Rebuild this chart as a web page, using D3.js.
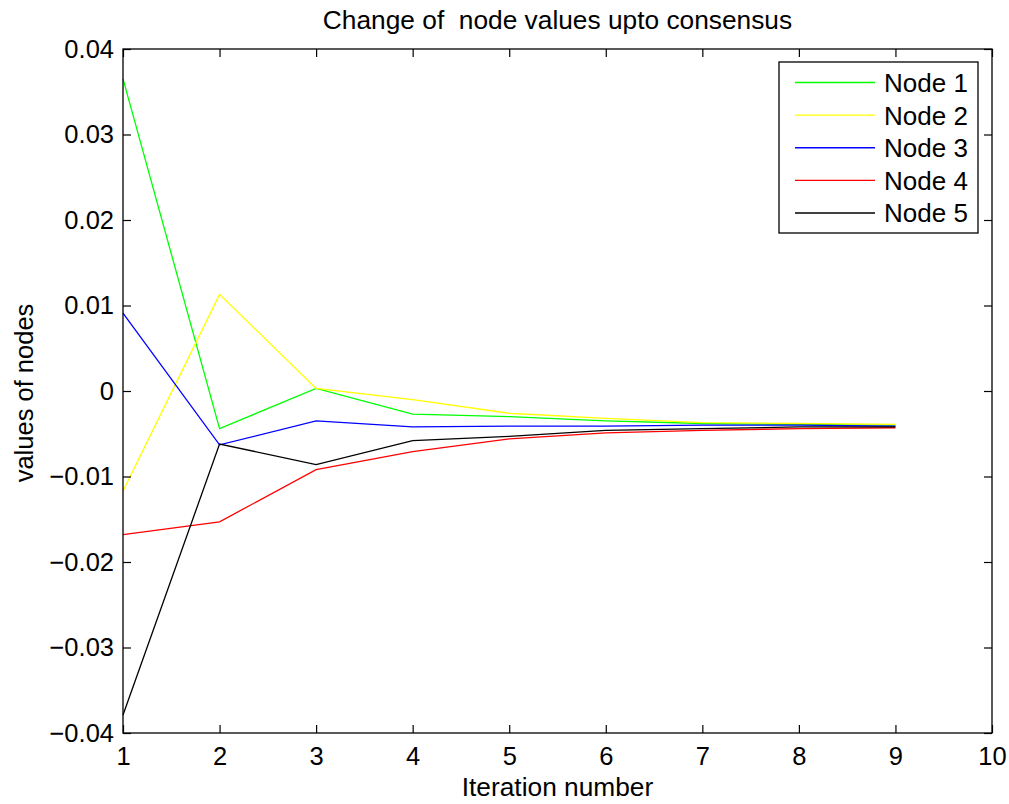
<!DOCTYPE html>
<html>
<head>
<meta charset="utf-8">
<script src="https://cdn.jsdelivr.net/npm/d3@7"></script>
<style>
  html, body { margin: 0; padding: 0; background: #fff; }
  svg { display: block; font-family: "Liberation Sans", Arial, sans-serif; }
</style>
</head>
<body>
<svg id="chart" width="1009" height="804"></svg>
<script>
// Iterations and node values recorded at each step
const iterations = [1, 2, 3, 4, 5, 6, 7, 8, 9];
const node1 = [0.0365, -0.0044, 0.0003, -0.0027, -0.0030, -0.0035, -0.0038, -0.0039, -0.0040];
const node2 = [-0.0117, 0.0113, 0.0003, -0.0010, -0.0026, -0.0032, -0.0037, -0.0038, -0.0039];
const node3 = [0.0091, -0.0063, -0.0035, -0.0042, -0.0041, -0.0041, -0.0040, -0.0040, -0.0041];
const node4 = [-0.0168, -0.0153, -0.0092, -0.0071, -0.0056, -0.0049, -0.0046, -0.0044, -0.0043];
const node5 = [-0.0379, -0.0062, -0.0086, -0.0058, -0.0053, -0.0046, -0.0044, -0.0042, -0.0042];
const seriesNames = ["Node 1", "Node 2", "Node 3", "Node 4", "Node 5"];
const seriesColors = ["#00ff00", "#ffff00", "#0000ff", "#ff0000", "#000000"];
const xTicks = [1, 2, 3, 4, 5, 6, 7, 8, 9, 10];
const yTicks = [-0.04, -0.03, -0.02, -0.01, 0, 0.01, 0.02, 0.03, 0.04];

const series = [node1, node2, node3, node4, node5].map((vals, i) => ({
  name: seriesNames[i],
  color: seriesColors[i],
  points: iterations.map((it, j) => [it, vals[j]])
}));

const svg = d3.select("#chart");
const plot = { left: 123, right: 992, top: 49, bottom: 733 };

const x = d3.scaleLinear().domain([1, 10]).range([plot.left, plot.right]);
const y = d3.scaleLinear().domain([-0.04, 0.04]).range([plot.bottom, plot.top]);

const fmtY = d => d === 0 ? "0" : d3.format(".2f")(d).replace("-", "\u2013");
const tickLen = 8;
const tickFont = 25.5;
const labelFont = 26.3;

// Lines
const line = d3.line().x(d => x(d[0])).y(d => y(d[1]));
svg.append("g").selectAll("path").data(series).join("path")
  .attr("d", d => line(d.points))
  .attr("fill", "none")
  .attr("stroke", d => d.color)
  .attr("stroke-width", 1.3);

// Axes: bottom/left carry labels, top/right mirror the ticks; ticks point inward
const axisStyle = g => {
  g.select(".domain").remove();
  g.selectAll(".tick line").attr("stroke", "#000").attr("stroke-width", 1.2);
  g.selectAll(".tick text").attr("fill", "#000").attr("font-size", tickFont)
    .attr("font-family", "Liberation Sans, Arial, sans-serif");
};

svg.append("g").attr("transform", `translate(0,${plot.bottom})`)
  .call(d3.axisBottom(x).tickValues(xTicks).tickFormat(d3.format("d"))
    .tickSizeInner(-tickLen).tickSizeOuter(0).tickPadding(14))
  .call(axisStyle);

svg.append("g").attr("transform", `translate(0,${plot.top})`)
  .call(d3.axisTop(x).tickValues(xTicks).tickFormat("")
    .tickSizeInner(-tickLen).tickSizeOuter(0))
  .call(axisStyle);

svg.append("g").attr("transform", `translate(${plot.left},0)`)
  .call(d3.axisLeft(y).tickValues(yTicks).tickFormat(fmtY)
    .tickSizeInner(-tickLen).tickSizeOuter(0).tickPadding(9))
  .call(axisStyle);

svg.append("g").attr("transform", `translate(${plot.right},0)`)
  .call(d3.axisRight(y).tickValues(yTicks).tickFormat("")
    .tickSizeInner(-tickLen).tickSizeOuter(0))
  .call(axisStyle);

// Plot box
svg.append("rect")
  .attr("x", plot.left).attr("y", plot.top)
  .attr("width", plot.right - plot.left).attr("height", plot.bottom - plot.top)
  .attr("fill", "none").attr("stroke", "#000").attr("stroke-width", 1.3);

// Title and axis labels
svg.append("text")
  .attr("x", (plot.left + plot.right) / 2).attr("y", 29)
  .attr("text-anchor", "middle").attr("font-size", labelFont)
  .attr("xml:space", "preserve")
  .text("Change of  node values upto consensus");

svg.append("text")
  .attr("x", (plot.left + plot.right) / 2).attr("y", 796)
  .attr("text-anchor", "middle").attr("font-size", labelFont)
  .text("Iteration number");

svg.append("text")
  .attr("transform", `translate(33,${(plot.top + plot.bottom) / 2 + 2}) rotate(-90)`)
  .attr("text-anchor", "middle").attr("font-size", 25.5)
  .text("values of nodes");

// Legend
const legend = svg.append("g").attr("transform", "translate(779,62)");
legend.append("rect")
  .attr("width", 199).attr("height", 171)
  .attr("fill", "#fff").attr("stroke", "#000").attr("stroke-width", 1.3);
const rowY = d3.scalePoint().domain(seriesNames).range([20.5, 151]);
const rows = legend.selectAll("g.row").data(series).join("g")
  .attr("class", "row")
  .attr("transform", d => `translate(0,${rowY(d.name)})`);
rows.append("line")
  .attr("x1", 16).attr("x2", 96)
  .attr("stroke", d => d.color).attr("stroke-width", 1.3);
rows.append("text")
  .attr("x", 105).attr("dy", "0.36em").attr("font-size", 26)
  .text(d => d.name);
</script>
</body>
</html>
